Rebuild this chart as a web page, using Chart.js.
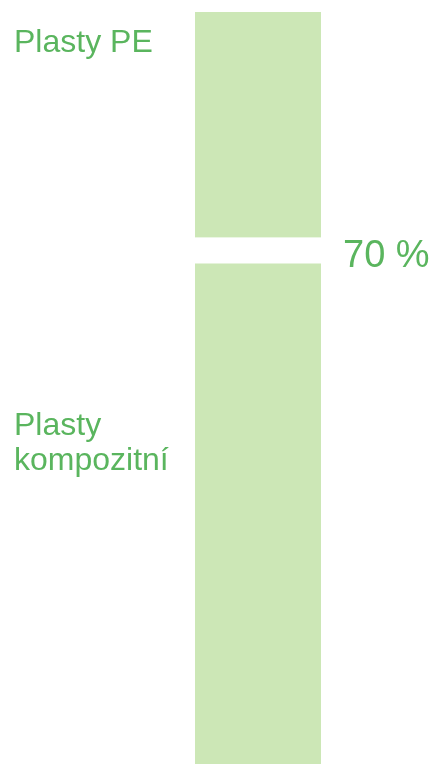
<!DOCTYPE html>
<html>
<head>
<meta charset="utf-8">
<script src="https://cdn.jsdelivr.net/npm/chart.js@4"></script>
<style>
  html, body { margin: 0; padding: 0; background: #fff; }
  #wrap { width: 441px; height: 764px; position: relative; }
</style>
</head>
<body>
<div id="wrap"><canvas id="chart"></canvas></div>
<script>
const categories = ['Plasty'];
const seriesNames = ['Plasty kompozitní', 'Plasty PE'];
const kompozitni = [70];
const pe = [30];

const barColor = '#cce7b6';
const textColor = '#5ab55e';

// side labels and value label
const labelPlugin = {
  id: 'labels',
  afterDraw(chart) {
    const { ctx, scales } = chart;
    const y = scales.y;
    const area = chart.chartArea;
    ctx.save();
    ctx.fillStyle = textColor;
    ctx.textAlign = 'left';
    ctx.textBaseline = 'alphabetic';
    ctx.font = '32px "Liberation Sans", Arial, sans-serif';
    ctx.fillText('Plasty PE', 14, 52);
    ctx.fillText('Plasty', 14, 435);
    ctx.fillText('kompozitní', 14, 470);

    const boundary = y.getPixelForValue(kompozitni[0]);
    ctx.font = '38px "Liberation Sans", Arial, sans-serif';
    ctx.fillText(kompozitni[0] + ' %', area.right + 22, boundary + 29);
    ctx.restore();
  }
};

const ctx = document.querySelector('#chart');
new Chart(ctx, {
  type: 'bar',
  data: {
    labels: categories,
    datasets: [
      {
        label: seriesNames[0],
        data: kompozitni,
        backgroundColor: barColor,
        borderColor: '#ffffff',
        borderWidth: { top: 26, right: 0, bottom: 0, left: 0 },
        borderSkipped: false,
        inflateAmount: 0
      },
      {
        label: seriesNames[1],
        data: pe,
        backgroundColor: barColor,
        borderWidth: 0,
        inflateAmount: 0
      }
    ]
  },
  options: {
    responsive: true,
    maintainAspectRatio: false,
    animation: false,
    layout: { padding: { left: 195, right: 120, top: 12, bottom: 0 } },
    datasets: { bar: { barPercentage: 1, categoryPercentage: 1 } },
    plugins: { legend: { display: false }, tooltip: { enabled: false } },
    scales: {
      x: { stacked: true, display: false },
      y: { stacked: true, display: false, min: 0, max: 100 }
    }
  },
  plugins: [labelPlugin]
});
</script>
</body>
</html>
